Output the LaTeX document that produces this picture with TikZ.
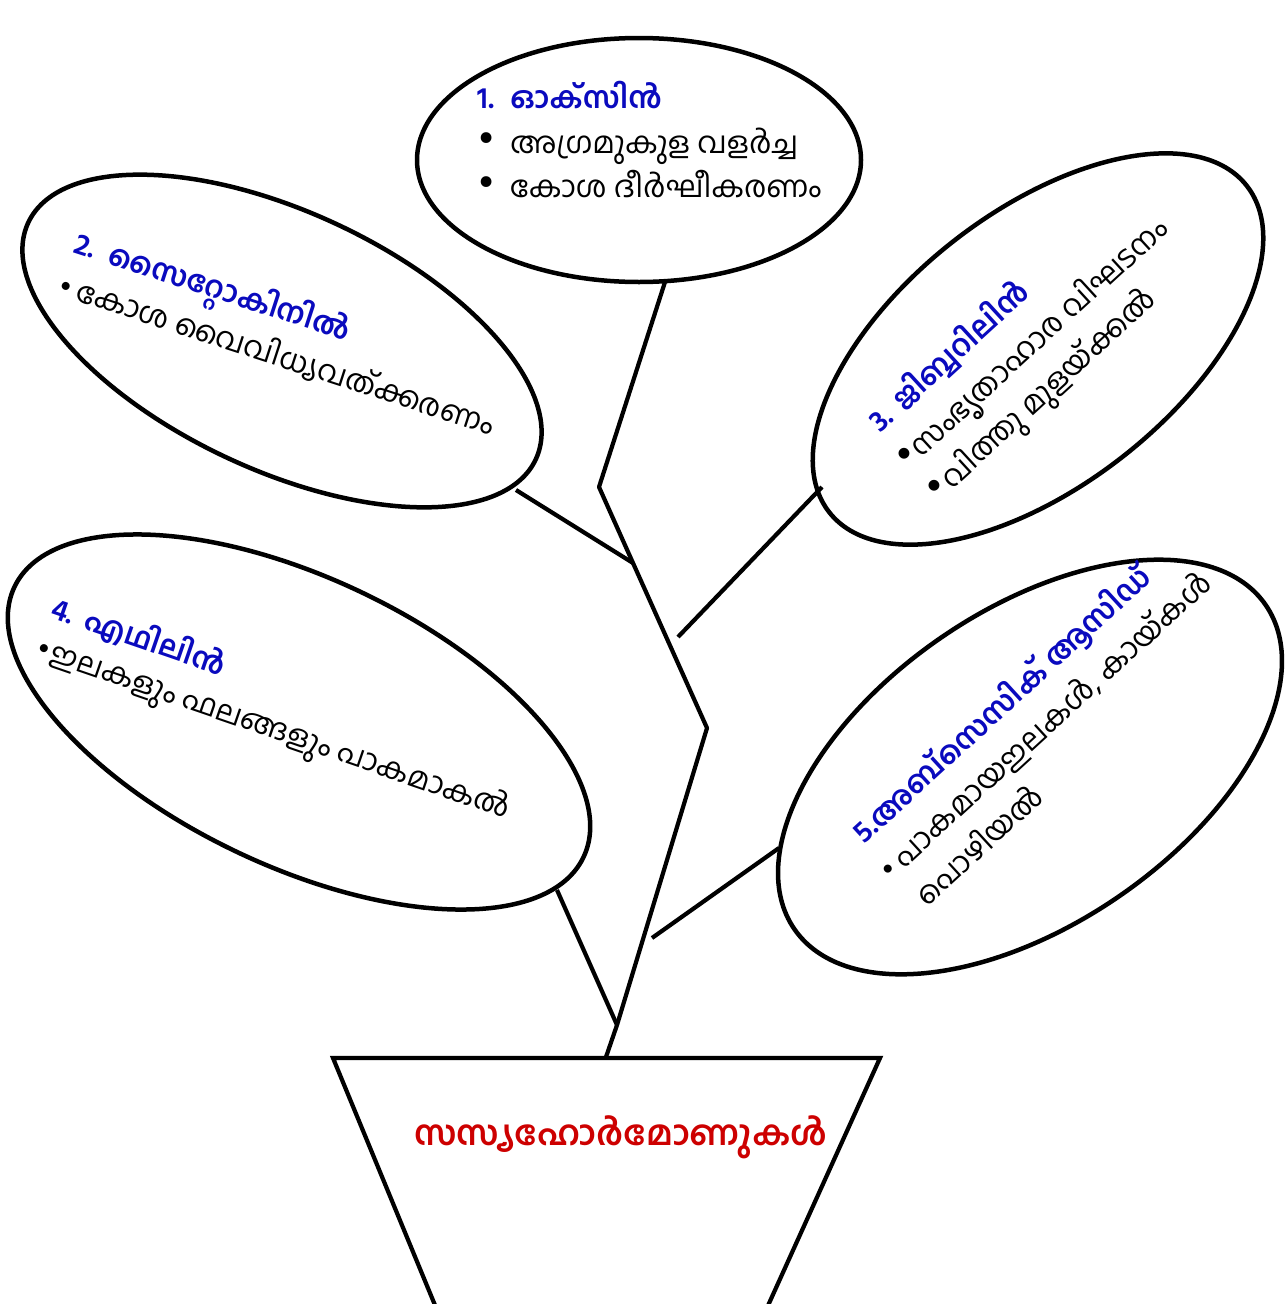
\documentclass[tikz,border=0pt]{standalone}
\usepackage{fontspec}
\usepackage{graphicx}
\setmainfont[Script=Malayalam]{Hind Kochi}
\usetikzlibrary{shapes.geometric}
\definecolor{hblue}{RGB}{10,10,190}
\definecolor{hred}{RGB}{205,0,0}
\newcommand\hbbul{\raisebox{0.02em}{\scalebox{1.35}{•}}}
\tikzset{
  bubble/.style={draw, ellipse, line width=4.5pt, inner sep=0pt},
  stem/.style={line width=4.2pt, line join=round},
  hbhead/.style={anchor=base west, inner sep=0pt, text=hblue,
    font=\fontsize{30}{33}\selectfont\bfseries},
  hbitem/.style={anchor=base west, inner sep=0pt,
    font=\fontsize{30}{33}\selectfont},
}
\begin{document}
\begin{tikzpicture}[x=1pt,y=-1pt]
\useasboundingbox (0,0) rectangle (1287,1304);

% hormone bubbles
\node[bubble, minimum width=444pt, minimum height=244pt] (e1) at (639,160) {};
\node[bubble, minimum width=560pt, minimum height=258pt, rotate=-25] (e2) at (282,341) {};
\node[bubble, minimum width=530pt, minimum height=274pt, rotate=38] (e3) at (1038,349) {};
\node[bubble, minimum width=630pt, minimum height=288pt, rotate=-25.4] (e4) at (299,722) {};
\node[bubble, minimum width=572pt, minimum height=314pt, rotate=34.5] (e5) at (1030,767) {};

% 1. auxin
\begin{scope}[shift={(477,108)}]
  \node[hbhead] (h1) at (0,0) {\makebox[33pt][l]{1.}ഓക്സിൻ};
  \node[hbitem] (i1a) at (0,45) {\makebox[33pt][l]{\hbbul}അഗ്രമുകുള വളർച്ച};
  \node[hbitem] (i1b) at (0,89) {\makebox[33pt][l]{\hbbul}കോശ ദീർഘീകരണം};
\end{scope}

% 2. cytokinin
\begin{scope}[shift={(72,252)}, rotate=-18, transform shape]
  \node[hbhead] (h2) at (0,0) {\makebox[36pt][l]{2.}സൈറ്റോകിനിൽ};
  \node[hbitem] (i2a) at (-2,45) {\makebox[19pt][l]{•}കോശ വൈവിധ്യവത്ക്കരണം};
\end{scope}

% 3. gibberellin
\begin{scope}[shift={(880,434)}, rotate=42.5, transform shape]
  \node[hbhead] (h3) at (0,0) {\makebox[33pt][l]{3.}ജിബ്ബറിലിൻ};
  \node[hbitem] (i3a) at (-5,46) {\makebox[19pt][l]{\hbbul}സംഭൃതാഹാര വിഘടനം};
  \node[hbitem] (i3b) at (-4,90) {\makebox[19pt][l]{\hbbul}വിത്തു മുളയ്ക്കൽ};
\end{scope}

% 4. ethylene
\begin{scope}[shift={(49,617)}, rotate=-19, transform shape]
  \node[hbhead] (h4) at (0,0) {\makebox[35pt][l]{4.}എഥിലിൻ};
  \node[hbitem] (i4a) at (-1,42) {\makebox[15pt][l]{•}ഇലകളും ഫലങ്ങളും പാകമാകൽ};
\end{scope}

% 5. abscisic acid
\begin{scope}[shift={(864,845)}, rotate=42.5, transform shape]
  \node[hbhead] (h5) at (0,0) {5.അബ്സെസിക് ആസിഡ്};
  \node[hbitem] (i5a) at (-5,45) {\makebox[18pt][l]{•}പാകമായഇലകൾ, കായ്കൾ};
  \node[hbitem] (i5b) at (4,89) {പൊഴിയൽ};
\end{scope}

% pot
\draw[line width=4.2pt, line join=miter] (437,1310) -- (333,1058) -- (880,1058) -- (766,1310);
\node[anchor=base, inner sep=0pt, text=hred, font=\fontsize{34.5}{38}\selectfont\bfseries]
  (pot) at (621,1145) {സസ്യഹോർമോണുകൾ};

% stem and branches
\coordinate (s1) at (665,282);
\coordinate (j1) at (599,487);
\coordinate (j2) at (633,563);
\coordinate (j3) at (707,728);
\coordinate (j4) at (617,1025);
\coordinate (base) at (606,1057);
\coordinate (b2) at (516,490);
\coordinate (b3) at (822,487);
\coordinate (b3end) at (678,637);
\coordinate (b4) at (557,890);
\coordinate (b5) at (779,848);
\coordinate (b5end) at (652,938);

\draw[stem] (s1) -- (j1) -- (j2) -- (j3) -- (j4) -- (base);
\draw[stem] (b2) -- (j2);
\draw[stem] (b3) -- (b3end);
\draw[stem] (b4) -- (j4);
\draw[stem] (b5) -- (b5end);
\end{tikzpicture}
\end{document}
